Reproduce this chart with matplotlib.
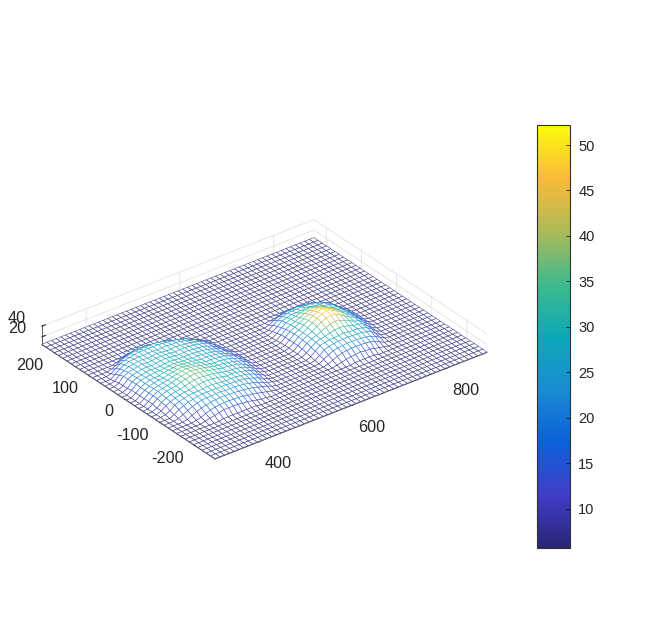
# mesh of two bumps with a parula style colorbar
import numpy as np
import matplotlib
matplotlib.use('Agg')
from matplotlib import pyplot as plt
from matplotlib.colors import LinearSegmentedColormap, Normalize
from matplotlib.cm import ScalarMappable

plt.rcParams['font.family'] = ['Liberation Sans', 'DejaVu Sans']
plt.rcParams['axes.unicode_minus'] = False

# grid of the mesh
x_grid = np.arange(306, 887, 10)
y_grid = np.arange(-257, 236, 12)
floor_value = 6

x_ticks = [400, 600, 800]
y_ticks = [-200, -100, 0, 100, 200]
z_ticks = [20, 40]
cbar_ticks = [10, 15, 20, 25, 30, 35, 40, 45, 50]

# heights, rows go with rising y
left_bump = [
    [6, 6, 6, 6, 6, 6, 6, 6, 8, 8, 8, 8, 8, 8, 8, 8, 6, 6, 6, 6, 6, 6, 6, 6, 6, 6],
    [6, 6, 6, 6, 6, 8, 10, 12, 14, 16, 16, 16, 16, 14, 14, 12, 10, 8, 8, 6, 6, 6, 6, 6, 6, 6],
    [6, 6, 6, 6, 8, 10, 14, 17, 19, 20, 21, 21, 20, 20, 19, 17, 16, 14, 12, 10, 8, 6, 6, 6, 6, 6],
    [6, 6, 6, 8, 12, 16, 19, 21, 23, 24, 25, 25, 24, 24, 23, 22, 21, 19, 17, 14, 12, 8, 6, 6, 6, 6],
    [6, 6, 8, 12, 16, 20, 23, 25, 26, 26, 27, 27, 26, 26, 26, 25, 24, 22, 20, 17, 14, 10, 8, 6, 6, 6],
    [6, 6, 10, 16, 20, 23, 25, 27, 28, 28, 28, 28, 28, 28, 27, 27, 26, 25, 23, 20, 17, 12, 8, 6, 6, 6],
    [6, 8, 12, 19, 22, 25, 27, 28, 28, 29, 30, 30, 29, 28, 27, 28, 27, 26, 25, 22, 19, 14, 10, 6, 6, 6],
    [6, 10, 16, 20, 24, 26, 28, 28, 31, 32, 33, 33, 32, 31, 29, 27, 28, 27, 25, 23, 20, 16, 10, 8, 6, 6],
    [6, 10, 17, 22, 25, 27, 28, 31, 33, 35, 36, 35, 34, 33, 31, 29, 27, 27, 26, 24, 21, 17, 12, 8, 6, 6],
    [6, 12, 19, 23, 26, 28, 29, 33, 35, 37, 38, 37, 36, 34, 32, 30, 28, 28, 26, 25, 22, 17, 12, 8, 6, 6],
    [6, 12, 19, 24, 26, 28, 30, 33, 35, 37, 38, 37, 36, 34, 32, 30, 28, 28, 26, 25, 22, 19, 14, 8, 6, 6],
    [6, 12, 19, 24, 26, 28, 29, 32, 34, 36, 37, 36, 35, 33, 31, 29, 27, 28, 26, 25, 22, 19, 14, 8, 6, 6],
    [6, 12, 19, 23, 26, 28, 28, 31, 33, 34, 35, 34, 33, 32, 30, 28, 28, 27, 26, 25, 22, 19, 14, 8, 6, 6],
    [6, 12, 19, 23, 26, 27, 27, 30, 31, 32, 33, 32, 31, 30, 29, 27, 28, 27, 26, 24, 21, 17, 12, 8, 6, 6],
    [6, 12, 20, 24, 26, 27, 28, 28, 29, 30, 31, 30, 29, 29, 27, 28, 27, 26, 25, 23, 20, 17, 12, 8, 6, 6],
    [6, 10, 19, 23, 25, 27, 28, 27, 28, 29, 30, 29, 28, 28, 28, 28, 27, 26, 25, 22, 19, 16, 10, 6, 6, 6],
    [6, 10, 19, 23, 25, 27, 28, 27, 28, 29, 30, 29, 28, 27, 28, 28, 27, 26, 25, 22, 19, 14, 10, 6, 6, 6],
    [6, 10, 19, 23, 25, 27, 28, 27, 28, 29, 29, 29, 28, 27, 28, 28, 27, 26, 24, 22, 19, 14, 8, 6, 6, 6],
    [6, 8, 16, 21, 25, 26, 28, 28, 27, 28, 29, 28, 27, 27, 28, 27, 26, 25, 23, 21, 17, 12, 8, 6, 6, 6],
    [6, 6, 12, 19, 23, 26, 27, 28, 27, 28, 28, 27, 28, 28, 27, 27, 26, 24, 21, 19, 14, 10, 6, 6, 6, 6],
    [6, 6, 8, 14, 20, 23, 25, 27, 28, 28, 28, 28, 28, 27, 26, 25, 24, 21, 19, 14, 10, 6, 6, 6, 6, 6],
    [6, 6, 6, 8, 12, 17, 21, 23, 25, 25, 25, 25, 25, 24, 22, 20, 17, 14, 10, 8, 6, 6, 6, 6, 6, 6],
    [6, 6, 6, 6, 6, 8, 12, 14, 17, 19, 19, 19, 17, 16, 14, 12, 10, 8, 6, 6, 6, 6, 6, 6, 6, 6],
    [6, 6, 6, 6, 6, 6, 6, 6, 8, 8, 8, 8, 8, 8, 6, 6, 6, 6, 6, 6, 6, 6, 6, 6, 6, 6],
]
right_bump = [
    [6, 6, 6, 6, 6, 6, 6, 8, 8, 8, 8, 8, 6, 6, 6, 6, 6, 6, 6],
    [6, 6, 6, 6, 8, 10, 12, 14, 14, 16, 14, 14, 12, 10, 8, 6, 6, 6, 6],
    [6, 6, 6, 8, 12, 16, 19, 20, 21, 21, 21, 20, 19, 16, 12, 8, 6, 6, 6],
    [6, 6, 7, 12, 17, 21, 23, 24, 25, 25, 25, 24, 23, 21, 17, 12, 7, 6, 6],
    [6, 6, 8, 14, 21, 24, 26, 27, 27, 28, 27, 27, 26, 24, 21, 14, 8, 6, 6],
    [6, 6, 10, 17, 24, 26, 28, 28, 29, 30, 29, 28, 28, 26, 23, 17, 10, 6, 6],
    [6, 7, 12, 19, 25, 28, 29, 32, 34, 35, 34, 32, 28, 28, 25, 18, 11, 7, 6],
    [6, 8, 14, 21, 26, 29, 33, 37, 40, 42, 40, 37, 33, 28, 26, 20, 13, 8, 6],
    [6, 8, 15, 22, 27, 31, 37, 42, 46, 48, 46, 42, 36, 31, 27, 21, 14, 8, 6],
    [6, 9, 15, 23, 27, 33, 39, 44, 49, 52, 49, 44, 39, 32, 27, 21, 14, 8, 6],
    [6, 8, 15, 23, 27, 33, 38, 43, 47, 50, 47, 43, 38, 32, 27, 21, 14, 8, 6],
    [6, 8, 15, 22, 27, 31, 36, 41, 44, 46, 44, 40, 36, 30, 27, 21, 13, 8, 6],
    [6, 7, 14, 21, 26, 29, 33, 37, 40, 41, 40, 36, 32, 28, 26, 19, 12, 7, 6],
    [6, 6, 12, 19, 25, 28, 30, 33, 35, 36, 35, 32, 29, 28, 24, 17, 11, 6, 6],
    [6, 6, 10, 16, 23, 26, 28, 28, 29, 30, 29, 27, 27, 26, 22, 15, 9, 6, 6],
    [6, 6, 7, 13, 19, 23, 25, 26, 26, 27, 26, 26, 24, 22, 18, 12, 7, 6, 6],
    [6, 6, 6, 8, 13, 17, 19, 21, 21, 22, 21, 20, 19, 16, 12, 8, 6, 6, 6],
    [6, 6, 6, 6, 7, 8, 10, 12, 12, 12, 12, 12, 10, 8, 7, 6, 6, 6, 6],
]

parula = LinearSegmentedColormap.from_list('parula', [
    (0.16, 0.15, 0.46), (0.25, 0.24, 0.78), (0.05, 0.38, 0.86), (0.10, 0.55, 0.82),
    (0.05, 0.66, 0.72), (0.25, 0.73, 0.55), (0.68, 0.73, 0.35), (0.98, 0.73, 0.22),
    (0.98, 0.98, 0.05)])
norm = Normalize(5.7, 52.2)

z = np.full((len(y_grid), len(x_grid)), float(floor_value))
z[8:32, 1:27] = left_bump
z[9:27, 31:50] = right_bump
xx, yy = np.meshgrid(x_grid, y_grid)

fig = plt.figure(figsize=(6.56, 6.27), dpi=100)
ax = fig.add_axes([-0.059, -0.048, 0.9, 0.99], projection='3d', proj_type='ortho')
ax.set_box_aspect((345, 285, 23), zoom=0.733)
ax.view_init(elev=30.6, azim=-127.6)

surf = ax.plot_surface(xx, yy, z, rstride=1, cstride=1, color='white', shade=False, linewidth=0.4)
surf.set_facecolor('white')
face_z = (z[:-1, :-1] + z[1:, :-1] + z[:-1, 1:] + z[1:, 1:]) / 4
surf.set_edgecolor(parula(norm(face_z.ravel()), alpha=0.85))

ax.set_xlim(x_grid[0], x_grid[-1])
ax.set_ylim(y_grid[0], y_grid[-1])
ax.set_zlim(5, 42)
ax.set_xticks(x_ticks)
ax.set_yticks(y_ticks)
ax.set_zticks(z_ticks)
ax.tick_params(labelsize=11.7, colors='#262626')
ax.tick_params(axis='x', pad=16)
ax.tick_params(axis='y', pad=1)
ax.tick_params(axis='z', pad=0)
ax.set_yticklabels([str(v) for v in y_ticks], ha='right', va='top')
ax.set_zticklabels([str(v) for v in z_ticks], ha='right', va='bottom')

for axis in (ax.xaxis, ax.yaxis, ax.zaxis):
    axis.set_pane_color((1, 1, 1, 0))
    axis.pane.set_edgecolor('#dcdcdc')
    axis.line.set_color('#404040')
    axis.line.set_linewidth(0.6)
    axis._axinfo['grid'].update(color='#e2e2e2', linewidth=0.6)
    axis._axinfo['tick'].update(inward_factor=0, outward_factor=0.15)

cax = fig.add_axes([537 / 656, 1 - 548 / 627, 33 / 656, 423 / 627])
cbar = fig.colorbar(ScalarMappable(norm=norm, cmap=parula), cax=cax, ticks=cbar_ticks)
cbar.ax.tick_params(direction='in', length=3, width=0.5, labelsize=10.5, labelcolor='#262626', pad=6)
cbar.outline.set_linewidth(0.8)
cbar.outline.set_edgecolor('#303030')

fig.savefig('out.png', dpi=100)
